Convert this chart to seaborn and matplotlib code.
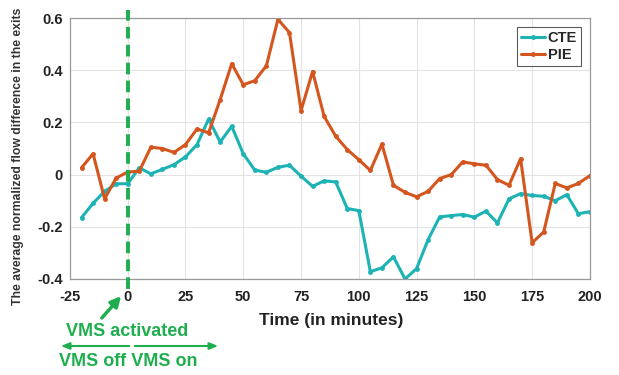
import numpy as np
import pandas as pd
import seaborn as sns
import matplotlib.pyplot as plt

# time in minutes (5 min steps)
time = list(range(-20, 205, 5))

cte = [-0.165, -0.11, -0.064, -0.035, -0.035, 0.026, 0.003, 0.02, 0.038, 0.068,
       0.115, 0.213, 0.125, 0.185, 0.08, 0.017, 0.009, 0.028, 0.036, -0.006,
       -0.045, -0.024, -0.028, -0.13, -0.138, -0.372, -0.357, -0.315, -0.40, -0.36,
       -0.249, -0.162, -0.157, -0.153, -0.163, -0.14, -0.185, -0.093, -0.073, -0.08,
       -0.083, -0.10, -0.077, -0.15, -0.142]

pie = [0.026, 0.08, -0.093, -0.013, 0.01, 0.013, 0.105, 0.10, 0.085, 0.115,
       0.175, 0.16, 0.287, 0.425, 0.344, 0.36, 0.417, 0.595, 0.544, 0.245,
       0.395, 0.223, 0.147, 0.096, 0.057, 0.016, 0.117, -0.041, -0.068, -0.085,
       -0.064, -0.015, 0.0, 0.049, 0.041, 0.036, -0.019, -0.041, 0.061, -0.261,
       -0.22, -0.034, -0.051, -0.034, -0.004]

series_names = ["CTE", "PIE"]
colors = ["#1db3b5", "#d4561e"]
green = "#1fae4e"

df = pd.DataFrame({
    "time": time * 2,
    "value": cte + pie,
    "series": ["CTE"] * len(time) + ["PIE"] * len(time),
})

sns.set_style("whitegrid")
plt.rcParams['font.family'] = ['Liberation Sans', 'DejaVu Sans']
plt.rcParams['axes.unicode_minus'] = False

fig = plt.figure(figsize=(6.19, 3.75), dpi=100)
ax = fig.add_axes([0.113, 0.256, 0.840, 0.696])

sns.lineplot(data=df, x="time", y="value", hue="series", hue_order=series_names,
             palette=colors, marker="o", markersize=3.5, markeredgewidth=0,
             linewidth=2.2, ax=ax)

ax.set_xlim(-25, 200)
ax.set_ylim(-0.4, 0.6)
ax.set_xticks(np.arange(-25, 201, 25))
ax.set_yticks(np.arange(-0.4, 0.61, 0.2))
ax.set_yticklabels(["-0.4", "-0.2", "0", "0.2", "0.4", "0.6"])
ax.tick_params(direction="in", length=4, color="#888888", labelsize=10.5,
               labelcolor="#222222")
ax.tick_params(axis="x", pad=8)
ax.tick_params(axis="y", pad=5)
for lab in ax.get_xticklabels() + ax.get_yticklabels():
    lab.set_fontweight("bold")
ax.grid(True, color="#e3e3e3", linewidth=0.8)
for s in ax.spines.values():
    s.set_color("#999999")
    s.set_linewidth(0.9)

ax.set_xlabel("")
ax.set_ylabel("")
fig.text(0.535, 1 - 321 / 375, "Time (in minutes)", ha="center", va="center",
         fontsize=12.5, fontweight="bold", color="#222222")
fig.text(18 / 619, 1 - 156 / 375, "The average normalized flow difference in the exits",
         rotation=90, ha="center", va="center", fontsize=8.8, fontweight="bold",
         color="#333333")

leg = ax.legend(loc="upper right", frameon=True, fontsize=10.5, handlelength=1.6,
                handletextpad=0.2, borderpad=0.3, labelspacing=0.2,
                fancybox=False, borderaxespad=0.6)
leg.get_frame().set_edgecolor("#333333")
leg.get_frame().set_linewidth(0.8)
for t in leg.get_texts():
    t.set_fontweight("bold")

# vertical dashed line at VMS activation, runs a bit beyond the axes
ax.axvline(0, ymin=-0.04, ymax=1.03, color=green, linestyle=(0, (3, 1.6)),
           linewidth=2.8, clip_on=False, zorder=5)

# annotations below the axes
fig.text(127 / 619, 1 - 331 / 375, "VMS activated", ha="center", va="center",
         fontsize=13, fontweight="bold", color=green)
fig.text(59 / 619, 1 - 361 / 375, "VMS off VMS on", ha="left", va="center",
         fontsize=13, fontweight="bold", color=green)
ax.annotate("", xy=(123 / 619, 1 - 294 / 375), xytext=(100 / 619, 1 - 320 / 375),
            xycoords="figure fraction", textcoords="figure fraction",
            arrowprops=dict(arrowstyle="-|>,head_length=0.6,head_width=0.3",
                            color=green, lw=2.5), annotation_clip=False)
ax.annotate("", xy=(58 / 619, 1 - 346 / 375), xytext=(132 / 619, 1 - 346 / 375),
            xycoords="figure fraction", textcoords="figure fraction",
            arrowprops=dict(arrowstyle="-|>,head_length=0.5,head_width=0.2",
                            color=green, lw=1.5), annotation_clip=False)
ax.annotate("", xy=(221 / 619, 1 - 346 / 375), xytext=(132 / 619, 1 - 346 / 375),
            xycoords="figure fraction", textcoords="figure fraction",
            arrowprops=dict(arrowstyle="-|>,head_length=0.5,head_width=0.2",
                            color=green, lw=1.5), annotation_clip=False)

fig.savefig("out.png", dpi=100)
